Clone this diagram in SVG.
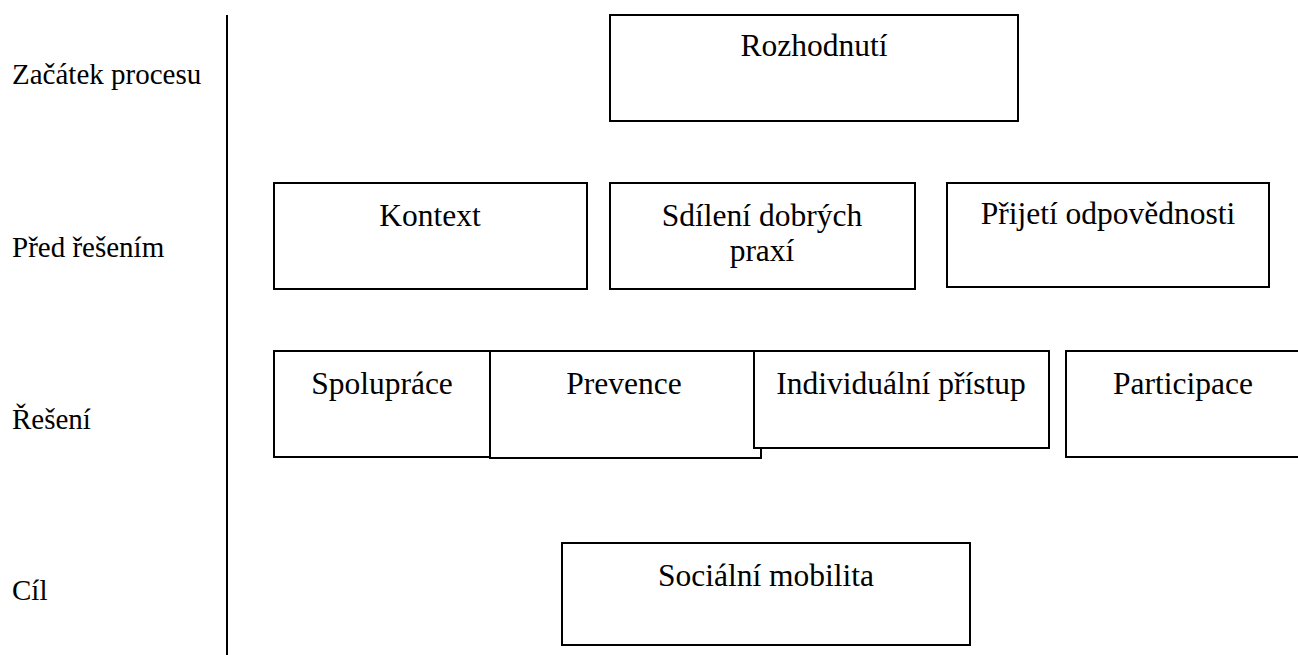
<svg xmlns="http://www.w3.org/2000/svg" width="1298" height="655" viewBox="0 0 1298 655">
<style>
.box{fill:#fff;stroke:#000;stroke-width:2}
text{font-family:"Liberation Serif","Times New Roman",serif;font-size:31.5px;fill:#000}
.lbl{font-size:29px}
.c{text-anchor:middle}
</style>
<rect width="1298" height="655" fill="#fff"/>
<g id="labels">
<text class="lbl" x="12" y="84">Začátek procesu</text>
<text class="lbl" x="12" y="257">Před řešením</text>
<text class="lbl" x="12" y="429">Řešení</text>
<text class="lbl" x="12" y="600">Cíl</text>
</g>
<g id="connectors">
<line x1="227" y1="15" x2="227" y2="655" stroke="#000" stroke-width="2"/>
</g>
<g id="rozhodnuti"><rect class="box" x="610" y="15" width="408" height="106"/><text class="c" x="814" y="56">Rozhodnutí</text></g>
<g id="kontext"><rect class="box" x="274" y="183" width="313" height="106"/><text class="c" x="430" y="226">Kontext</text></g>
<g id="sdileni"><rect class="box" x="610" y="183" width="305" height="106"/><text class="c" x="762" y="226">Sdílení dobrých</text><text class="c" x="762" y="261">praxí</text></g>
<g id="prijeti"><rect class="box" x="947" y="183" width="322" height="104"/><text class="c" x="1108" y="224">Přijetí odpovědnosti</text></g>
<g id="spoluprace"><rect class="box" x="274" y="351" width="216" height="106"/><text class="c" x="382" y="394">Spolupráce</text></g>
<g id="prevence"><rect class="box" x="490" y="351" width="271" height="107"/><text class="c" x="624" y="394">Prevence</text></g>
<g id="individualni"><rect class="box" x="754" y="351" width="295" height="97"/><text class="c" x="901" y="394">Individuální přístup</text></g>
<g id="participace"><rect class="box" x="1066" y="351" width="240" height="106"/><text class="c" x="1183" y="394">Participace</text></g>
<g id="socialni"><rect class="box" x="562" y="543" width="408" height="102"/><text class="c" x="766" y="586">Sociální mobilita</text></g>
</svg>
